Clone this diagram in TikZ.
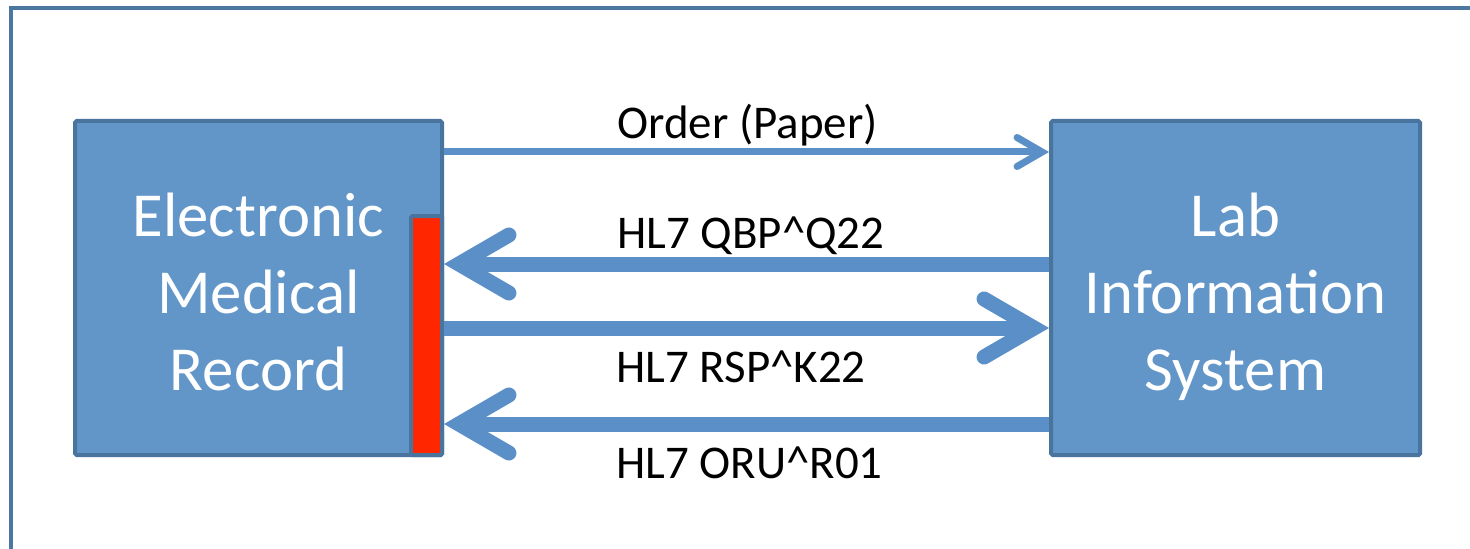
\documentclass[tikz,border=0pt]{standalone}
\usepackage{fontspec}
\setmainfont{Carlito}
\usetikzlibrary{arrows.meta,calc}
\definecolor{boxfill}{RGB}{98,150,201}
\definecolor{boxedge}{RGB}{72,116,158}
\definecolor{arrowblue}{RGB}{91,143,199}
\definecolor{framecol}{RGB}{76,119,161}
\definecolor{redbar}{RGB}{255,38,0}
\begin{document}
\begin{tikzpicture}[x=0.75pt,y=-0.75pt,
  sysbox/.style={draw=boxedge, fill=boxfill, line width=3pt, rounded corners=1.2pt,
    inner sep=0pt, anchor=north west, text=white, align=center,
    font=\fontsize{47}{57.75}\selectfont},
  barbox/.style={draw=boxedge, fill=redbar, line width=3pt, rounded corners=1pt,
    inner sep=0pt, anchor=north west},
  thinarrow/.style={draw=arrowblue, line width=5.25pt,
    -{Straight Barb[length=18.75pt, width=21.75pt, line cap=round, line join=miter]}},
  thickarrow/.style={draw=arrowblue, line width=11.25pt,
    -{Straight Barb[length=37.5pt, width=43.5pt, line cap=round, line join=miter]}},
  msg/.style={anchor=base west, inner sep=0pt, text=black,
    font=\fontsize{35.2}{42}\selectfont}]
\useasboundingbox (0,0) rectangle (1470,549);
% outer frame
\draw[framecol, line width=3pt] (11,551) -- (11,8) -- (1472,8);
% systems
\node[sysbox, minimum width=275.25pt, minimum height=250.5pt] (emr) at (73,119)
  {\rule{0pt}{1.115em}Electronic\\Medical\\Record\rule[-0.3em]{0pt}{0.3em}};
\node[sysbox, minimum width=276.75pt, minimum height=250.5pt] (lis) at (1049,119)
  {\rule{0pt}{1.115em}Lab\\Information\\System\rule[-0.3em]{0pt}{0.3em}};
\node[barbox, minimum width=23.25pt, minimum height=179.25pt] (rec) at (409,214) {};
% messages
\draw[thinarrow] (emr.east |- 0,152) -- (lis.west |- 0,152);
\draw[thickarrow] (lis.west |- 0,264) -- (rec.east |- 0,264);
\draw[thickarrow] (rec.east |- 0,328) -- (lis.west |- 0,328);
\draw[thickarrow] (lis.west |- 0,424) -- (rec.east |- 0,424);
% labels
\node[msg] (l1) at (617,139) {Order (Paper)};
\node[msg] (l2) at (617,248) {HL7 QBP\textasciicircum Q22};
\node[msg] (l3) at (616,382) {HL7 RSP\textasciicircum K22};
\node[msg] (l4) at (616,478) {HL7 ORU\textasciicircum R01};
\end{tikzpicture}
\end{document}
